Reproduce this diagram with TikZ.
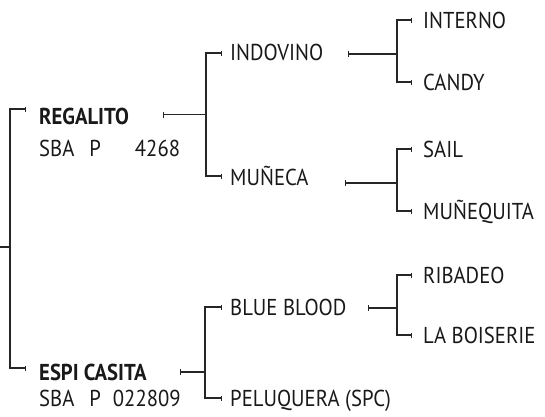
\documentclass[tikz,border=0pt]{standalone}
\usepackage{fontspec}
\setmainfont{PT Sans}[FakeStretch=0.9]
\usetikzlibrary{arrows.meta}
\begin{document}
\begin{tikzpicture}[x=1pt,y=-1pt,
  lbl/.style={anchor=base west,inner sep=0pt,font=\fontsize{23}{23}\selectfont,text=black!90},
  blbl/.style={lbl,font=\fontsize{23}{23}\selectfont\bfseries},
  conn/.style={draw=black!85,line width=1.3pt},
  tick/.style={{Bar[width=6pt,line width=1.3pt]}-},
  brk/.style={-{Bar[width=5pt,line width=1.3pt]}}]
\useasboundingbox (0,0) rectangle (545,416);
% text nodes
\node[blbl] (regalito) at (39,124) {REGALITO};
\node[lbl] (sba1) at (39,156) {SBA\hspace{15pt}P\hspace{34pt}4268};
\node[blbl] (espi) at (39,380) {ESPI CASITA};
\node[lbl] (sba2) at (39,406) {SBA\hspace{15pt}P\hspace{12pt}022809};
\node[lbl] (indovino) at (230,60) {INDOVINO};
\node[lbl] (muneca) at (230,185) {MUÑECA};
\node[lbl] (blue) at (230,315) {BLUE BLOOD};
\node[lbl] (pelu) at (230,406) {PELUQUERA (SPC)};
\node[lbl] (interno) at (423,28) {INTERNO};
\node[lbl] (candy) at (423,90) {CANDY};
\node[lbl] (sail) at (423,157) {SAIL};
\node[lbl] (munequita) at (423,219) {MUÑEQUITA};
\node[lbl] (ribadeo) at (423,283) {RIBADEO};
\node[lbl] (boiserie) at (423,343) {LA BOISERIE};
% coordinates
\coordinate (rootin) at (0,247);
\coordinate (root) at (10,247);
\coordinate (eR) at (26,109);
\coordinate (eE) at (26,368);
\coordinate (tR) at (163,114.7);
\coordinate (jR) at (206,114.7);
\coordinate (eInd) at (222,53);
\coordinate (eMun) at (222,176);
\coordinate (tE) at (180,372);
\coordinate (jE) at (205,372);
\coordinate (eBlue) at (222,307);
\coordinate (ePelu) at (222,398);
\coordinate (tInd) at (348,54);
\coordinate (jInd) at (397,54);
\coordinate (eInt) at (412,20);
\coordinate (eCan) at (412,82);
\coordinate (tMun) at (345,183);
\coordinate (jMun) at (397,183);
\coordinate (eSail) at (412,149);
\coordinate (eMuq) at (412,211);
\coordinate (tBlue) at (368,308);
\coordinate (jBlue) at (397,308);
\coordinate (eRib) at (412,275);
\coordinate (eBoi) at (412,335);
% connectors
\draw[conn] (rootin) -- (root);
\draw[conn,brk] (root) |- (eR);
\draw[conn,brk] (root) |- (eE);
\draw[conn,tick] (tR) -- (jR);
\draw[conn,brk] (jR) |- (eInd);
\draw[conn,brk] (jR) |- (eMun);
\draw[conn,tick] (tE) -- (jE);
\draw[conn,brk] (jE) |- (eBlue);
\draw[conn,brk] (jE) |- (ePelu);
\draw[conn,tick] (tInd) -- (jInd);
\draw[conn,brk] (jInd) |- (eInt);
\draw[conn,brk] (jInd) |- (eCan);
\draw[conn,tick] (tMun) -- (jMun);
\draw[conn,brk] (jMun) |- (eSail);
\draw[conn,brk] (jMun) |- (eMuq);
\draw[conn,tick] (tBlue) -- (jBlue);
\draw[conn,brk] (jBlue) |- (eRib);
\draw[conn,brk] (jBlue) |- (eBoi);
\end{tikzpicture}
\end{document}
